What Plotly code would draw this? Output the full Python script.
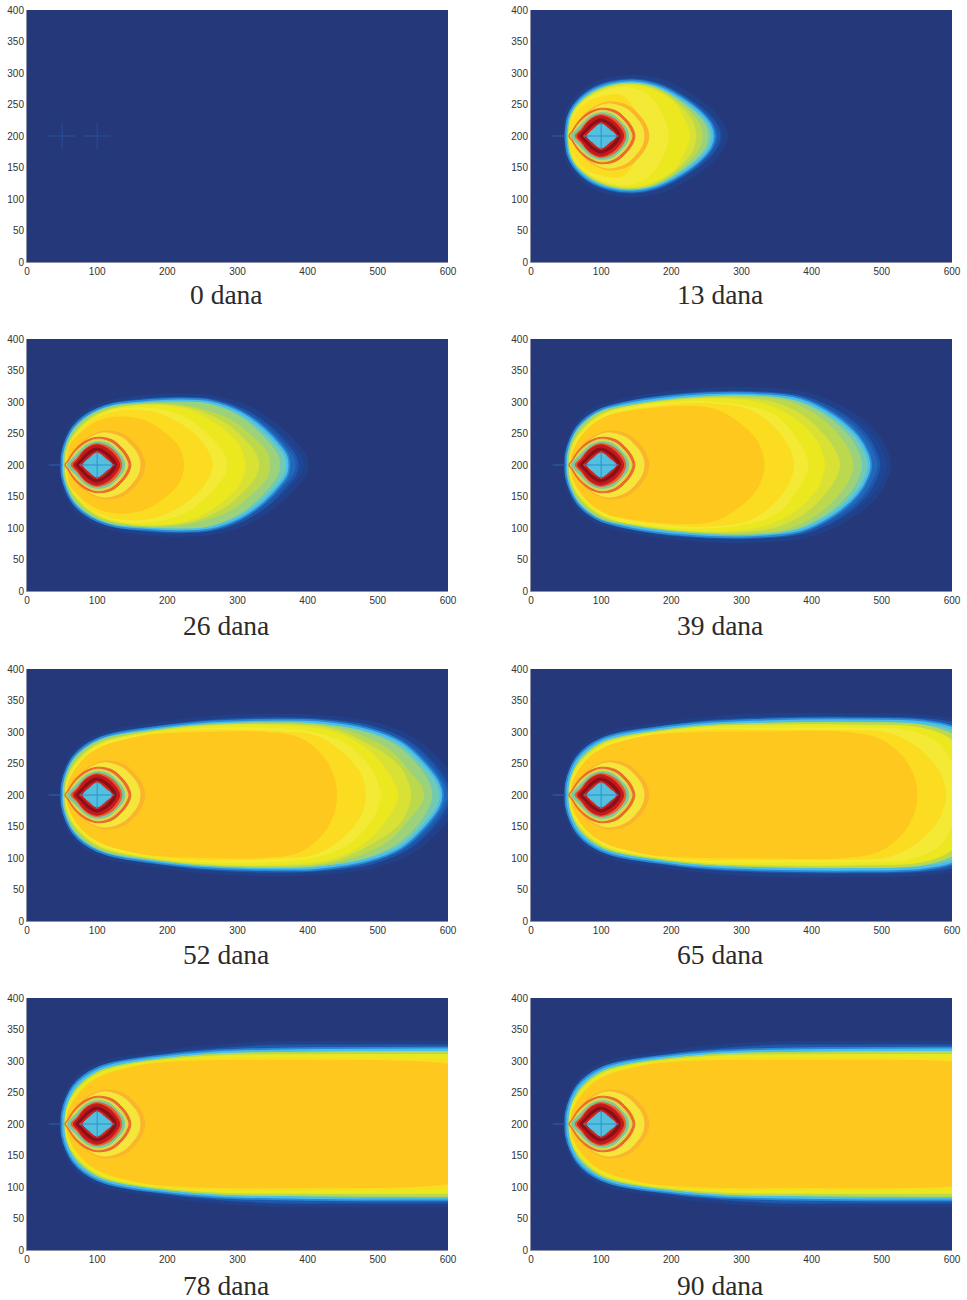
import plotly.graph_objects as go

# ---- panel labels and ticks -------------------------------------------------
PANEL_LABELS = ["0 dana", "13 dana", "26 dana", "39 dana", "52 dana", "65 dana", "78 dana", "90 dana"]
X_TICKS = [0, 100, 200, 300, 400, 500, 600]
Y_TICKS = [0, 50, 100, 150, 200, 250, 300, 350, 400]

# ---- colours of the concentration bands, outermost first --------------------
NAVY = "#25387a"
C_FADE = "#1d4796"
C_MID = "#2268ba"
C_FRONT = "#72cab4"
C_T = "#9cd27c"
C_G = "#bcd94e"
C_Y2 = "#d8e134"
C_Y = "#ebe81f"
C_LY = "#f4ea35"
C_O1 = "#fbdc20"
C_O2 = "#fec81e"

# ---- plume outlines: upper half (x, y), symmetric at y=200
NOSE_FADE = [(50,200),(50,218),(55,240),(64,261),(78,278),(98,291),(122,300)]
NOSE_MID = [(51,200),(51,218),(57,240),(66,260),(80,276),(100,288),(124,297)]
NOSE_FRONT = [(52,200),(53,218),(59,240),(68,258),(83,274),(102,286),(125,294)]
NOSE_G = [(54,200),(55,218),(61,239),(70,256),(85,272),(103,284),(127,292)]
NOSE_Y = [(55,200),(56,218),(62,238),(72,254),(87,270),(105,282),(128,290)]
NOSE_LY = [(55,200),(57,218),(63,235),(73,251),(88,267),(107,280),(129,288)]
NOSE_O1 = [(56,200),(58,216),(63,231),(74,249),(88,265),(109,278),(130,285)]
NOSE_O2 = [(57,200),(58,214),(63,229),(73,247),(87,263),(111,278),(135,286)]

D13_FADE = [(50,200),(50,214),(51,228),(58,250),(80,274),(110,289),(145,293),(185,287),(225,265),(258,238),(272,217),(278,200)]
D13_MID = [(51,200),(51,214),(53,228),(61,248),(82,271),(112,285),(145,289),(182,282),(218,262),(248,237),(263,217),(268,200)]
D13_FRONT = [(52,200),(53,214),(55,228),(63,246),(84,268),(113,281),(145,285),(179,278),(212,260),(241,236),(255,217),(259,200)]
D13_T = [(53,200),(54,214),(56,228),(64,246),(85,267),(113,280),(145,284),(178,277),(210,258),(237,234),(249,216),(252,200)]
D13_G = [(53,200),(54,214),(56,228),(65,247),(86,267),(113,279),(145,283),(178,276),(208,256),(232,232),(241,216),(244,200)]
D13_Y2 = [(54,200),(55,214),(57,228),(66,247),(87,266),(113,278),(145,282),(177,274),(206,254),(227,229),(233,215),(235,200)]
D13_Y = [(54,200),(55,214),(58,228),(67,247),(88,265),(113,276),(145,280),(177,272),(205,252),(219,225),(224,212),(226,200)]
D13_LY = [(55,200),(56,214),(59,226),(72,250),(100,270),(140,277),(170,262),(188,232),(194,214),(196,200)]
D13_O1 = [(55,200),(56,214),(60,226),(75,250),(100,262),(130,264),(148,240),(156,215),(158,200)]

D26_FADE = NOSE_FADE + [(165,307),(213,310),(265,307),(315,290),(355,262),(385,230),(395,214),(398,200)]
D26_MID = NOSE_MID + [(165,303),(213,306),(263,303),(310,286),(346,259),(372,229),(382,214),(385,200)]
D26_FRONT = NOSE_FRONT + [(165,299),(213,302),(261,299),(304,282),(337,256),(360,229),(369,214),(371,200)]
D26_T = NOSE_FRONT + [(165,298),(213,300),(259,297),(300,279),(330,253),(351,227),(358,214),(360,200)]
D26_G = NOSE_G + [(175,297),(235,292),(290,272),(322,244),(341,222),(346,200)]
D26_Y2 = NOSE_Y + [(175,296),(233,290),(283,266),(311,239),(326,218),(330,200)]
D26_Y = NOSE_Y + [(175,295),(232,287),(275,261),(301,234),(308,216),(311,200)]
D26_LY = NOSE_LY + [(175,290),(223,277),(256,250),(277,224),(283,212),(285,200)]
D26_O1 = [(56,200),(57,214),(60,232),(74,250),(90,268),(128,285),(175,285),(213,269),(242,245),(259,219),(264,200)]
D26_O2 = [(58,200),(59,216),(63,234),(95,266),(128,276),(166,271),(194,253),(216,229),(223,200)]

D39_FADE = NOSE_FADE[:-1] + [(142,304),(217,316),(312,320),(395,311),(450,285),(490,250),(505,222),(510,200)]
D39_MID = NOSE_MID[:-1] + [(144,301),(217,312),(312,315),(389,307),(441,281),(477,247),(491,220),(496,200)]
D39_FRONT = NOSE_FRONT[:-1] + [(146,298),(217,308),(312,311),(383,303),(431,277),(464,245),(478,219),(482,200)]
D39_T = NOSE_FRONT[:-1] + [(146,296),(217,306),(312,310),(378,301),(424,275),(455,243),(468,217),(471,200)]
D39_G = NOSE_G[:-1] + [(146,294),(217,305),(300,308),(365,301),(412,275),(445,238),(456,215),(459,200)]
D39_Y2 = NOSE_Y[:-1] + [(146,294),(217,304),(295,306),(350,298),(393,274),(426,236),(437,214),(440,200)]
D39_Y = NOSE_Y + [(217,303),(290,304),(336,295),(379,271),(410,234),(416,215),(419,200)]
D39_LY = NOSE_LY + [(217,300),(303,294),(350,277),(383,234),(392,214),(395,200)]
D39_O1 = NOSE_O1 + [(217,297),(255,297),(312,287),(350,256),(369,224),(374,200)]
D39_O2 = NOSE_O2[:-1] + [(217,293),(265,287),(303,261),(324,234),(332,200)]

D52_FADE = NOSE_FADE + [(172,309),(246,320),(341,325),(420,323),(495,312),(550,288),(585,255),(608,222),(616,200)]
D52_MID = NOSE_MID + [(174,306),(246,316),(341,321),(417,319),(490,308),(541,285),(575,252),(596,220),(603,200)]
D52_FRONT = NOSE_FRONT + [(175,303),(246,312),(341,316),(413,315),(484,303),(532,282),(566,248),(586,218),(590,200)]
D52_T = NOSE_FRONT + [(175,302),(246,311),(341,315),(410,313),(478,301),(525,279),(556,248),(574,216),(577,200)]
D52_G = NOSE_G + [(175,301),(246,310),(340,313),(420,310),(467,298),(517,271),(548,233),(563,212),(565,200)]
D52_Y2 = NOSE_Y + [(175,300),(246,309),(340,312),(430,306),(480,284),(527,250),(541,226),(547,200)]
D52_Y = NOSE_Y + [(175,299),(246,308),(340,311),(437,300),(489,269),(518,229),(526,212),(529,200)]
D52_LY = NOSE_LY + [(175,297),(246,305),(340,306),(413,298),(460,277),(494,234),(501,214),(504,200)]
D52_O1 = NOSE_O1 + [(175,296),(246,303),(365,300),(413,293),(456,261),(477,229),(482,200)]
D52_O2 = NOSE_O2 + [(175,295),(246,299),(342,299),(389,290),(422,261),(437,229),(441,200)]

D65_FADE = NOSE_FADE + [(172,309),(246,320),(341,326),(462,326),(557,324),(620,312),(660,280),(670,200)]
D65_MID = NOSE_MID + [(174,306),(246,316),(341,321),(462,322),(557,320),(615,309),(655,280),(665,200)]
D65_FRONT = NOSE_FRONT + [(175,303),(246,312),(319,316),(462,318),(557,315),(599,306),(645,280),(660,200)]
D65_G = NOSE_G + [(175,301),(246,310),(340,314),(462,315),(557,311),(600,297),(640,270),(655,200)]
D65_Y = NOSE_Y + [(175,299),(246,308),(340,311),(462,311),(557,306),(600,287),(635,240),(645,200)]
D65_LY = NOSE_LY + [(175,297),(246,305),(340,306),(462,306),(533,303),(580,282),(602,245),(612,215),(615,200)]
D65_O1 = NOSE_O1 + [(175,296),(246,303),(340,303),(462,302),(509,298),(552,274),(580,240),(591,200)]
D65_O2 = NOSE_O2 + [(175,295),(246,299),(340,300),(452,299),(500,287),(533,256),(547,224),(550,200)]

D78_FADE = NOSE_FADE + [(172,309),(246,320),(341,327),(462,328),(600,328),(640,328),(660,200)]
D78_MID = NOSE_MID + [(174,306),(246,316),(341,323),(462,324),(600,324),(640,324),(660,200)]
D78_FRONT = NOSE_FRONT + [(175,303),(270,313),(413,317),(598,318),(640,318),(660,200)]
D78_G = NOSE_G + [(175,301),(270,311),(413,314),(598,315),(640,315),(660,200)]
D78_Y = NOSE_Y + [(175,299),(270,308),(413,310),(598,310),(640,310),(660,200)]
D78_O1 = NOSE_O1 + [(175,296),(246,303),(400,304),(600,302),(640,300),(660,200)]
D78_O2 = NOSE_O2 + [(175,295),(246,300),(400,301),(520,300),(600,295),(640,285),(655,200)]

D90_FADE = NOSE_FADE + [(172,309),(246,320),(341,327),(462,328),(600,328),(640,328),(660,200)]
D90_MID = NOSE_MID + [(174,306),(246,316),(341,323),(462,324),(600,324),(640,324),(660,200)]
D90_FRONT = NOSE_FRONT + [(175,303),(270,313),(413,317),(598,318),(640,318),(660,200)]
D90_G = NOSE_G + [(175,301),(270,311),(413,314),(598,315),(640,315),(660,200)]
D90_Y = NOSE_Y + [(175,299),(270,308),(413,310),(598,310),(640,310),(660,200)]
D90_O1 = NOSE_O1 + [(175,296),(246,303),(400,304),(600,303),(640,302),(660,200)]
D90_O2 = NOSE_O2 + [(175,295),(246,300),(400,301),(520,301),(600,298),(640,290),(655,200)]

# ---- rings around the well at (100, 200), outermost first ----------------------
RING_FAINT = [(55,200),(64,216),(78,236),(98,250),(114,254),(140,247),(158,228),(165,214),(168,200)]
RING_PALE = [(55,200),(63,215),(76,232),(96,247),(112,251),(136,243),(152,226),(159,213),(161,200)]
RING_ORANGE = [(54,200),(58,207),(68,224),(83,238),(100,244),(121,240),(137,225),(145,212),(148,200)]
RING_LIME = [(56,200),(60,206),(70,222),(85,235),(100,241),(119,236),(134,222),(141,210),(144,200)]
RING_GREEN = [(58,200),(70,216),(84,231),(100,237),(117,233),(130,220),(137,210),(139,200)]
RING_RED = [(63,200),(72,212),(83,226),(99,234),(119,227),(131,213),(135,200)]
RING_CRIM = [(66,200),(73,210),(83,224),(99,232),(116,225),(128,211),(132,200)]
RING_DARK = [(70,200),(76,208),(85,219),(99,227),(114,220),(124,209),(127,200)]
RING_INNER = [(75,200),(81,207),(88,215),(100,222),(112,215),(119,207),(123,200)]
RING_CYAN = [(80,200),(88,210),(100,219),(112,210),(121,200)]
RINGS = [(RING_FAINT,"#fbb42c"),(RING_PALE,"#f5e63c"),(RING_ORANGE,"#ee6a2a"),(RING_LIME,"#d6dc50"),
         (RING_GREEN,"#7cc8a0"),(RING_RED,"#ea5a2a"),(RING_CRIM,"#c41a1c"),(RING_DARK,"#8a0f18"),
         (RING_INNER,"#c9241e"),(RING_CYAN,"#52c0de")]

# ---- wells ---------------------------------------------------------------------
WELL_X = [50, 100]
WELL_Y = 200
CROSS_HALF_X = 19
CROSS_HALF_Y = 21

PLUMES = {
    "13 dana": [D13_FADE, D13_MID, D13_FRONT, D13_T, D13_G, D13_Y2, D13_Y, D13_LY, D13_O1, None],
    "26 dana": [D26_FADE, D26_MID, D26_FRONT, D26_T, D26_G, D26_Y2, D26_Y, D26_LY, D26_O1, D26_O2],
    "39 dana": [D39_FADE, D39_MID, D39_FRONT, D39_T, D39_G, D39_Y2, D39_Y, D39_LY, D39_O1, D39_O2],
    "52 dana": [D52_FADE, D52_MID, D52_FRONT, D52_T, D52_G, D52_Y2, D52_Y, D52_LY, D52_O1, D52_O2],
    "65 dana": [D65_FADE, D65_MID, D65_FRONT, None, D65_G, None, D65_Y, D65_LY, D65_O1, D65_O2],
    "78 dana": [D78_FADE, D78_MID, D78_FRONT, None, D78_G, None, D78_Y, None, D78_O1, D78_O2],
    "90 dana": [D90_FADE, D90_MID, D90_FRONT, None, D90_G, None, D90_Y, None, D90_O1, D90_O2],
}
BAND_COLORS = [C_FADE, C_MID, C_FRONT, C_T, C_G, C_Y2, C_Y, C_LY, C_O1, C_O2]

W, H = 967, 1300
COLS = [(27, 448), (531, 952)]
ROWS = [(10, 262), (339, 591), (669, 921), (998, 1250)]
LABEL_CX = [226, 720]
LABEL_CY = [295, 625, 954, 1285]

fig = go.Figure()


def closed(pts):
    xs = [p[0] for p in pts] + [p[0] for p in reversed(pts[:-1])]
    ys = [p[1] for p in pts] + [400 - p[1] for p in reversed(pts[:-1])]
    return xs, ys


def area(pts, color, ax, ay, lw=1.0, lc=None):
    xs, ys = closed(pts)
    fig.add_trace(go.Scatter(x=xs, y=ys, xaxis=ax, yaxis=ay, mode="lines", hoverinfo="skip", showlegend=False,
                             fill="toself", fillcolor=color,
                             line=dict(color=lc or color, width=lw, shape="spline", smoothing=1.0)))


def seg(x0, x1, y0, y1, color, ax, ay, width=1.0):
    fig.add_trace(go.Scatter(x=[x0, x1], y=[y0, y1], xaxis=ax, yaxis=ay, mode="lines", hoverinfo="skip",
                             showlegend=False, line=dict(color=color, width=width)))


for i, label in enumerate(PANEL_LABELS):
    r, c = i // 2, i % 2
    n = "" if i == 0 else str(i + 1)
    ax, ay = "x" + n, "y" + n
    (l, rr), (t, b) = COLS[c], ROWS[r]
    common = dict(showgrid=False, zeroline=False, showline=True, linecolor="#8d90a8", linewidth=1, ticks="",
                  automargin=False, tickfont=dict(family="Liberation Sans", size=10, color="#333333"), fixedrange=True)
    fig.layout["xaxis" + n] = dict(domain=[l / W, rr / W], range=[0, 600], tickvals=X_TICKS, anchor=ay, **common)
    fig.layout["yaxis" + n] = dict(domain=[(H - b) / H, (H - t) / H], range=[0, 400], tickvals=Y_TICKS, anchor=ax, **common)
    fig.add_annotation(x=LABEL_CX[c] / W, y=(H - LABEL_CY[r]) / H, xref="paper", yref="paper", text=label, showarrow=False,
                       xanchor="center", yanchor="middle", font=dict(family="Liberation Serif", size=27.5, color="#2b2b2b"))

    if label == "0 dana":
        for wx in WELL_X:
            seg(wx - CROSS_HALF_X, wx + CROSS_HALF_X, WELL_Y, WELL_Y, "#27509e", ax, ay)
            seg(wx, wx, WELL_Y - CROSS_HALF_Y, WELL_Y + CROSS_HALF_Y, "#27509e", ax, ay)
        continue

    for j, (pts, col) in enumerate(zip(PLUMES[label], BAND_COLORS)):
        if pts is None:
            continue
        if j == 0:
            area(pts, col, ax, ay, lw=5, lc="#214088")
        elif j == 1:
            area(pts, col, ax, ay, lw=3, lc="#1f58aa")
        elif j == 2:
            area(pts, col, ax, ay, lw=6, lc="#2c8ad4")
            area(pts, col, ax, ay, lw=2.5, lc="#49bfe9")
        else:
            area(pts, col, ax, ay, lw=1)
    seg(WELL_X[0] - CROSS_HALF_X, WELL_X[0], WELL_Y, WELL_Y, "#2a62b4", ax, ay)
    for pts, col in RINGS:
        area(pts, col, ax, ay, lw=1)
    seg(WELL_X[1] - CROSS_HALF_X - 6, WELL_X[1] + CROSS_HALF_X + 6, WELL_Y, WELL_Y, "#2f90d0", ax, ay)
    seg(WELL_X[1], WELL_X[1], WELL_Y - CROSS_HALF_Y - 1, WELL_Y + CROSS_HALF_Y + 1, "#2f90d0", ax, ay)

fig.update_layout(width=W, height=H, margin=dict(l=0, r=0, t=0, b=0, autoexpand=False), paper_bgcolor="white",
                  plot_bgcolor=NAVY, showlegend=False)
fig.write_html("out.html", config={"displayModeBar": False},
               post_script="document.body.style.margin='0';")
